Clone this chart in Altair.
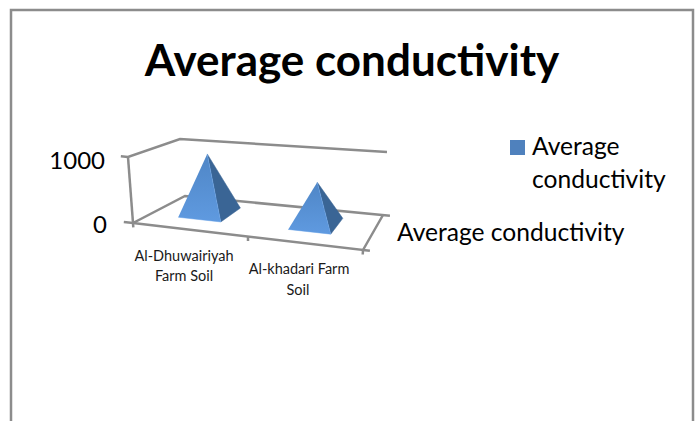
import altair as alt
import pandas as pd

# Chart content
title_text = "Average conductivity"
series_name = "Average conductivity"
categories = [["Al-Dhuwairiyah", "Farm Soil"], ["Al-khadari Farm", "Soil"]]
values = [950, 650]
value_ticks = [0, 1000]

FONT = "Lato"
W, H = 696, 421
AXIS_GREY = "#8c8c8c"


def pyramid_rows(values):
    """Vertices of the visible faces; position and depth are floor fractions."""
    front, side = [], []
    centres = [0.225, 0.726]
    half_s, t_front, t_back = 0.097, 0.33, 0.80
    for i, (c, v) in enumerate(zip(centres, values)):
        front += [
            dict(cat=i, ord=0, s=c - half_s, t=t_front, value=0),
            dict(cat=i, ord=1, s=c + half_s, t=t_front, value=0),
            dict(cat=i, ord=2, s=c, t=0.565, value=v),
        ]
        side += [
            dict(cat=i, ord=0, s=c + half_s, t=t_front, value=0),
            dict(cat=i, ord=1, s=c + half_s, t=t_back, value=0),
            dict(cat=i, ord=2, s=c, t=0.565, value=v),
        ]
    return pd.DataFrame(front), pd.DataFrame(side)


def frame_rows():
    """Floor, walls and tick stubs of the 3D box."""
    top = value_ticks[1]
    low = value_ticks[0]
    paths = [
        [(0, 0, top), (0, 0, low)],
        [(-0.03, 0, top), (0, 0, top), (0, 1, top), (1, 1, top)],
        [(-0.04, 0, low), (0, 0, low), (0, 1, low), (1.035, 1, low)],
        [(0, 0, low), (1, 0, low), (1, 1, low)],
        [(1, 0, low), (1.03, 0, low)],
        [(0, 0, low), (0, 0, -65)],
        [(0.5, 0, low), (0.5, 0, -65)],
        [(1, 0, low), (1, 0, -65)],
    ]
    rows = []
    for g, path in enumerate(paths):
        for o, (s, t, v) in enumerate(path):
            rows.append(dict(cat=g, ord=o, s=s, t=t, value=v))
    return pd.DataFrame(rows)


def projected(df):
    """Perspective-like projection of (position, depth, value) to the canvas."""
    return (
        alt.Chart(df)
        .transform_calculate(
            px="(133+230*datum.s)*(1-datum.t)+(185+198*datum.s)*datum.t"
            "+datum.value/1000*(-5+9*datum.s)",
            py="(223+27*datum.s)*(1-datum.t)+(196+19*datum.s)*datum.t"
            "-datum.value/1000*((1-datum.t)*(66+3*datum.s)+datum.t*(57+6*datum.s))",
        )
    )


x_enc = alt.X("px:Q", axis=None, scale=alt.Scale(domain=[0, W], range=[0, W]))
y_enc = alt.Y("py:Q", axis=None, scale=alt.Scale(domain=[0, H], range=[0, H]))


def label(text, x, y, size, align="left", color="#000000", weight="normal"):
    return (
        alt.Chart(pd.DataFrame({"label": [text]}))
        .mark_text(font=FONT, fontSize=size, align=align, baseline="alphabetic",
                   color=color, fontWeight=weight)
        .encode(text="label:N", x=alt.value(x), y=alt.value(y))
    )


front_df, side_df = pyramid_rows(values)

frame = projected(frame_rows()).mark_line(color=AXIS_GREY, strokeWidth=2.5).encode(
    x=x_enc, y=y_enc, detail="cat:N", order="ord:Q"
)

front_fill = alt.Gradient(
    gradient="linear", x1=0, y1=0, x2=0, y2=1,
    stops=[alt.GradientStop(offset=0, color="#4f86c6"),
           alt.GradientStop(offset=1, color="#5f9ae0")],
)
front_faces = projected(front_df).mark_line(fill=front_fill, stroke="#639ee6", strokeWidth=0.5).encode(
    x=x_enc, y=y_enc, detail="cat:N", order="ord:Q"
)
side_faces = projected(side_df).mark_line(fill="#3a6595", stroke="#3a6595", strokeWidth=0.5).encode(
    x=x_enc, y=y_enc, detail="cat:N", order="ord:Q"
)

# Outer border: open at the bottom edge
border_df = pd.DataFrame({"side": [0, 0, 0, 0], "ord": [0, 1, 2, 3],
                          "px": [11, 11, 693, 693], "py": [421, 10, 10, 421]})
border = alt.Chart(border_df).mark_line(color="#8c8c8c", strokeWidth=2.5).encode(
    x=x_enc, y=y_enc, order="ord:Q"
)

legend_swatch = (
    alt.Chart(pd.DataFrame({"series": [series_name]}))
    .mark_square(size=225, color="#4f81bd", opacity=1, filled=True)
    .encode(x=alt.value(517.5), y=alt.value(147.5))
)

layers = [
    border,
    frame,
    side_faces,
    front_faces,
    label(str(value_ticks[1]), 105, 169, 24, align="right"),
    label(str(value_ticks[0]), 107, 233, 24, align="right"),
    label(categories[0][0], 184, 261, 14.5, align="center", color="#1a1a1a"),
    label(categories[0][1], 184, 281, 14.5, align="center", color="#1a1a1a"),
    label(categories[1][0], 299, 274, 14.5, align="center", color="#1a1a1a"),
    label(categories[1][1], 298, 295, 14.5, align="center", color="#1a1a1a"),
    label(series_name, 397, 241, 24.6),
    legend_swatch,
    label("Average", 532, 155, 24.6),
    label("conductivity", 532, 188, 24.6),
]

chart = (
    alt.layer(*layers)
    .properties(
        width=W,
        height=H,
        padding=0,
        autosize=alt.AutoSizeParams(type="none"),
        background="#ffffff",
        title=alt.TitleParams(
            title_text, font=FONT, fontSize=44, fontWeight="bold", color="#000000",
            anchor="middle", baseline="alphabetic", offset=0, dy=120, dx=4,
        ),
    )
    .configure_view(stroke=None)
)

chart.save("out.html", embed_options={"renderer": "svg", "actions": False})
